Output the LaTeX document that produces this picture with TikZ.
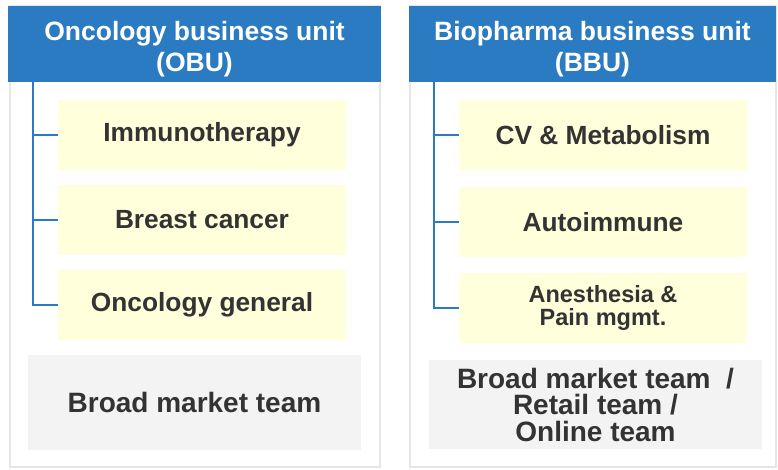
\documentclass[tikz,border=0pt]{standalone}
\usepackage{fontspec}
\setmainfont{Liberation Sans}
\definecolor{unitblue}{HTML}{2A7BC1}
\definecolor{areayellow}{HTML}{FFFFDB}
\definecolor{teamgray}{HTML}{F3F3F3}
\definecolor{framegray}{HTML}{E6E6E6}
\definecolor{inktext}{HTML}{333333}
\tikzset{
  unitbox/.style={fill=unitblue,minimum height=76pt,inner sep=0pt},
  unittext/.style={text=white,align=center,yshift=-5pt,
    font=\bfseries\fontsize{26.5}{31}\selectfont,inner sep=0pt},
  areabox/.style={fill=areayellow,text=inktext,minimum width=288pt,minimum height=70pt,
    align=center,font=\bfseries\fontsize{26.3}{27}\selectfont,inner sep=0pt},
  teambox/.style={fill=teamgray,text=inktext,minimum width=333pt,align=center,
    font=\bfseries\fontsize{28}{26.5}\selectfont,inner sep=0pt},
  link/.style={draw=unitblue,line width=1.5pt}
}
\begin{document}
\begin{tikzpicture}[x=1pt,y=-1pt]
  \useasboundingbox (0,0) rectangle (778,470);
  \draw[framegray,line width=1.5pt] (10,6) rectangle (380,467);
  \draw[framegray,line width=1.5pt] (410,6) rectangle (776,467);
  \node[unitbox,minimum width=373pt] (obu) at (194.5,44) {};
  \node[unitbox,minimum width=367pt] (bbu) at (592.5,44) {};
  \node[unittext] (obutext) at (obu) {Oncology business unit\\(OBU)};
  \node[unittext] (bbutext) at (bbu) {Biopharma business unit\\(BBU)};
  \node[areabox] (immuno) at (202,135) {Immunotherapy};
  \node[areabox] (breast) at (202,220) {Breast cancer};
  \node[areabox] (oncgen) at (202,305) {Oncology general};
  \node[areabox] (cvmet) at (603,135) {CV \& Metabolism};
  \node[areabox] (autoimm) at (603,222) {Autoimmune};
  \node[areabox,font=\bfseries\fontsize{23.5}{23}\selectfont] (anesth) at (603,308) {Anesthesia \&\\Pain mgmt.};
  \node[teambox,minimum height=95pt] (obuteam) at (194.5,402.5) {Broad market team};
  \node[teambox,minimum height=89pt] (bbuteam) at (595.5,404.5) {Broad market team\ \ /\\Retail team /\\Online team};
  \coordinate (obustem) at (33,82);
  \coordinate (bbustem) at (434,82);
  \draw[link] (obustem) |- (oncgen.west);
  \draw[link] (obustem |- immuno.west) -- (immuno.west);
  \draw[link] (obustem |- breast.west) -- (breast.west);
  \draw[link] (bbustem) |- (anesth.west);
  \draw[link] (bbustem |- cvmet.west) -- (cvmet.west);
  \draw[link] (bbustem |- autoimm.west) -- (autoimm.west);
\end{tikzpicture}
\end{document}
